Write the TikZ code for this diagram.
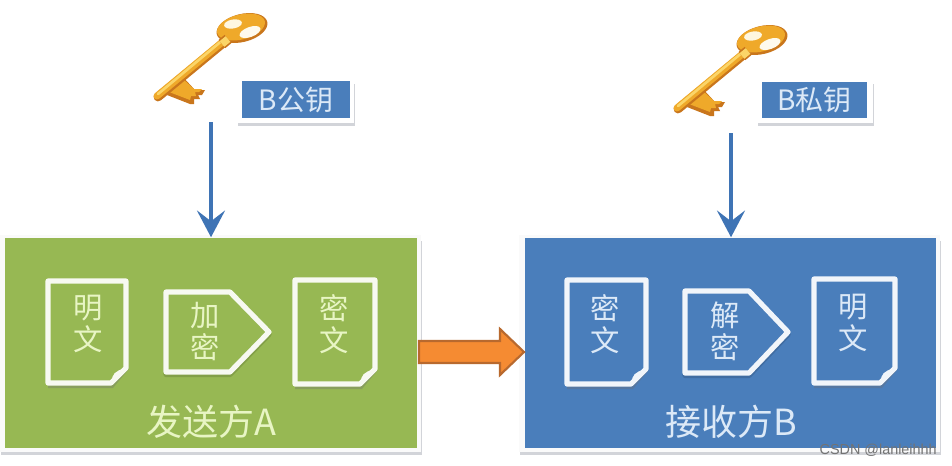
\documentclass[tikz,border=0pt]{standalone}
\usepackage{fontspec}
\setmainfont{Liberation Sans}
\newfontfamily\cjk{Noto Sans CJK SC}
\usetikzlibrary{calc,arrows.meta}
\definecolor{greenbox}{HTML}{97B853}
\definecolor{bluebox}{HTML}{4A7EBB}
\definecolor{greentxt}{HTML}{E8F5C4}
\definecolor{bluetxt}{HTML}{DCE9F7}
\definecolor{arrowblue}{HTML}{3F74B5}
\definecolor{orangefill}{HTML}{F58B32}
\definecolor{orangeedge}{HTML}{B8692E}
\definecolor{keygold}{HTML}{EFA92A}
\definecolor{keylight}{HTML}{FBD568}
\definecolor{keydark}{HTML}{C9761C}
\definecolor{shadowgrey}{HTML}{D2D4D9}
\tikzset{
  x=0.75pt,y=-0.75pt,
  panel/.style={inner sep=0pt,minimum width=0pt},
  docline/.style={draw=#1,line width=3.9pt,line join=round},
  doctext/.style={font=\cjk\fontsize{22}{24}\selectfont,align=center,inner sep=0pt},
  titletext/.style={font=\cjk\fontsize{27}{30}\selectfont,inner sep=0pt},
  keytext/.style={font=\cjk\fontsize{21}{24}\selectfont,text=bluetxt,inner sep=0pt},
  downarrow/.style={draw=arrowblue,line width=3.6pt,-{Stealth[length=20pt,width=21pt,inset=8pt]}},
  keybody/.pic={
    % bit
    \fill[keydark] (13,88) -- (29,70) -- (41,83) -- (51,83) -- (48,88) -- (44,88) -- (46,92) -- (40,92) -- (40,97) -- (36,97) -- cycle;
    \fill[keygold] (15,85) -- (29,72) -- (40,82) -- (48,82) -- (45,85) -- (41,85) -- (42,89) -- (37,89) -- (36,93) -- cycle;
    % shaft
    \draw[keydark,line width=6.6pt,line cap=round] (4,90) -- (73,33);
    \draw[keygold,line width=5.2pt,line cap=round] (3,89) -- (72,32);
    \draw[keylight,line width=2pt,line cap=round] (4,87) -- (70,32);
    % bow
    \fill[keydark,rotate around={14:(88,21)}] (88,21) ellipse [x radius=26,y radius=14];
    \fill[keygold,rotate around={14:(87,20)}] (87,20) ellipse [x radius=24.5,y radius=12.5];
    \fill[white!88!keylight,rotate around={20:(96,25)}] (96,25) ellipse [x radius=11,y radius=5];
    \fill[white!80!keylight,rotate around={10:(79,17)}] (79,17) ellipse [x radius=9,y radius=4.5];
    % collar
    \draw[keydark,line width=8pt] (68,37) -- (74,32);
    \draw[keylight,line width=5.5pt] (68,37) -- (74,32);
  }
}
\newcommand{\docsheet}[5]{% left,top,right,bottom,colour
  \fill[shadowgrey!45!#5!70!black,opacity=.55] (#1,#2+3) -- (#3+2,#2+3) -- (#3+2,#4-13) -- (#3-13,#4+5) -- (#1,#4+5) -- cycle;
  \draw[docline=white!92!#5,fill=#5] (#1,#2) -- (#3,#2) -- (#3,#4-15) -- (#3-15,#4) -- (#1,#4) -- cycle;
  \fill[white!92!#5] (#3-14,#4-1) .. controls (#3-15,#4-8) and (#3-10,#4-13) .. (#3-2,#4-14) -- cycle;
}
\newcommand{\pentagon}[6]{% left,top,right,bottom,shoulder,colour
  \draw[docline=#6!70!black,opacity=.45] (#1,#2+2.5) -- (#5,#2+2.5) -- (#3,{(#2+#4)/2+2.5}) -- (#5,#4+2.5) -- (#1,#4+2.5) -- cycle;
  \draw[docline=white!92!#6,fill=#6] (#1,#2) -- (#5,#2) -- (#3,{(#2+#4)/2}) -- (#5,#4) -- (#1,#4) -- cycle;
}
\begin{document}
\begin{tikzpicture}
\useasboundingbox (0,0) rectangle (952,465);
\fill[white] (0,0) rectangle (952,465);
% keys
\pic at (154,7) {keybody};
\pic at (674,19) {keybody};
% key labels
\fill[shadowgrey] (238,84) rectangle (355,126);
\fill[white] (237,79) rectangle (354,123);
\node[panel,fill=bluebox,minimum width=81pt,minimum height=28pt] (pubkey) at (296,99.5) {};
\node[keytext] at (296,99.5) {B公钥};
\fill[shadowgrey] (758,84) rectangle (874,126);
\fill[white] (757,79) rectangle (873,123);
\node[panel,fill=bluebox,minimum width=79pt,minimum height=27.5pt] (prikey) at (814.5,100) {};
\node[keytext] at (814.5,100) {B私钥};
% panels
\fill[shadowgrey] (1,241) rectangle (422,455);
\fill[white!98!black] (0,235) rectangle (421,452);
\node[panel,fill=greenbox,minimum width=309pt,minimum height=157.5pt] (sender) at (211,342.5) {};
\fill[shadowgrey] (520,241) rectangle (941,455);
\fill[white!98!black] (519,235) rectangle (940,452);
\node[panel,fill=bluebox,minimum width=308.25pt,minimum height=157.5pt] (receiver) at (730.5,342.5) {};
% vertical arrows
\coordinate (pubstart) at (211,122);
\coordinate (pristart) at (731,133);
\draw[downarrow] (pubstart) -- (sender.north -| pubstart);
\draw[downarrow] (pristart) -- (receiver.north -| pristart);
% green content
\docsheet{48}{281}{126}{383}{greenbox}
\node[doctext,text=greentxt] at (88,324) {明\\文};
\pentagon{166}{292}{269}{372}{230}{greenbox}
\node[doctext,text=greentxt] at (205,332) {加\\密};
\docsheet{295}{280}{375}{384}{greenbox}
\node[doctext,text=greentxt] at (334,324) {密\\文};
\node[titletext,text=greentxt] at (211,422) {发送方A};
% blue content
\docsheet{567}{280}{646}{384}{bluebox}
\node[doctext,text=bluetxt] at (605,324) {密\\文};
\pentagon{685}{291}{788}{373}{749}{bluebox}
\node[doctext,text=bluetxt] at (725,331) {解\\密};
\docsheet{814}{279}{895}{383}{bluebox}
\node[doctext,text=bluetxt] at (853,323) {明\\文};
\node[titletext,text=bluetxt] at (731,422) {接收方B};
% transfer arrow
\draw[draw=orangeedge,fill=orangefill,line width=1.6pt,line join=miter]
  (419,341) -- (500,341) -- (500,329) -- (524,352) -- (500,375) -- (500,363) -- (419,363) -- cycle;
% watermark
\node[font=\fontsize{10.8}{12}\selectfont,text=black!55,inner sep=0pt,anchor=east] (wm) at (937,450) {CSDN @lanleihhh};
\end{tikzpicture}
\end{document}
